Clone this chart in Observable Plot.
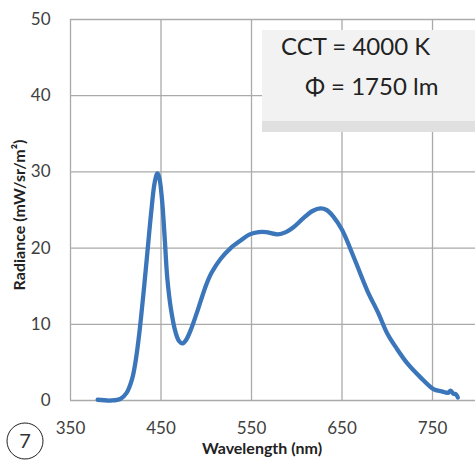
<!DOCTYPE html>
<html>
<head>
<meta charset="utf-8">
<script src="https://cdn.jsdelivr.net/npm/d3@7"></script>
<script src="https://cdn.jsdelivr.net/npm/@observablehq/plot@0.6"></script>
<style>
  html, body { margin: 0; padding: 0; background: #fff; }
  #chart svg { display: block; }
</style>
</head>
<body>
<div id="chart"></div>
<script>
// ---- data ----
const wavelength = [380, 395, 405, 412, 418, 422, 426, 431, 435, 439, 443, 446, 448, 451, 454, 457, 461, 466, 470, 474, 478, 483, 489, 494, 500, 506, 516, 527, 538, 548, 558, 566, 579, 588, 596, 608, 618, 626, 633, 640, 650, 663, 678, 690, 700, 710, 722, 737, 751, 760, 767, 770, 773, 776, 778];
const radiance   = [0.1, 0.0, 0.2, 1.0, 2.8, 5.2, 8.8, 14.5, 19.5, 24.5, 28.6, 29.8, 29.3, 26.5, 21.5, 16, 12, 9.0, 7.8, 7.5, 8.0, 9.3, 11.3, 13.1, 15.2, 16.8, 18.6, 20, 21, 21.8, 22.1, 22.1, 21.8, 22.1, 22.7, 24, 24.9, 25.2, 25.0, 24.2, 22.4, 18.8, 14.4, 11.5, 8.8, 6.9, 4.9, 3.0, 1.5, 1.2, 1.0, 1.3, 0.9, 0.8, 0.4];
const xTicks = [350, 450, 550, 650, 750];
const yTicks = [0, 10, 20, 30, 40, 50];
const xTitle = "Wavelength (nm)";
const yTitle = "Radiance (mW/sr/m²)";
const boxLines = ["CCT = 4000 K", "Φ = 1750 lm"];
const panelNumber = "7";

const rows = wavelength.map((w, i) => ({w, r: radiance[i]}));

const W = 475, H = 461;
const font = "Lato, 'Open Sans', sans-serif";
const gridColor = "#aaaaaa";

const chart = Plot.plot({
  width: W,
  height: H,
  marginLeft: 70,
  marginRight: 0,
  marginTop: 19,
  marginBottom: 61,
  style: {fontFamily: font, background: "#fff", color: "#404040"},
  x: {domain: [350, 797.5]},
  y: {domain: [0, 50]},
  marks: [
    Plot.ruleX(xTicks, {x: d => d, stroke: gridColor, strokeWidth: 1.3}),
    Plot.ruleY(yTicks, {y: d => d, stroke: gridColor, strokeWidth: 1.3}),
    Plot.axisX({ticks: xTicks, tickSize: 0, tickPadding: 21, fontSize: 17, label: null, tickFormat: d => String(d)}),
    Plot.axisY({ticks: yTicks, tickSize: 0, tickPadding: 20, fontSize: 17, label: null}),
    Plot.line(rows, {x: "w", y: "r", stroke: "#3b76bb", strokeWidth: 4.3, curve: "catmull-rom", strokeLinecap: "round", strokeLinejoin: "round"})
  ]
});

document.getElementById("chart").appendChild(chart);

const svg = d3.select(chart);

// annotation box
const g = svg.append("g");
g.append("rect").attr("x", 262).attr("y", 121).attr("width", 213).attr("height", 11).attr("fill", "#e0e0e0");
g.append("rect").attr("x", 262).attr("y", 30).attr("width", 213).attr("height", 91).attr("fill", "#f2f2f2");
g.append("text").attr("x", 281).attr("y", 55).attr("text-anchor", "start").attr("font-family", font).attr("font-size", 24).attr("fill", "#222").text(boxLines[0]);
g.append("text").attr("x", 305).attr("y", 95).attr("text-anchor", "start").attr("font-family", font).attr("font-size", 24).attr("fill", "#222").text(boxLines[1]);

// axis titles
svg.append("text").attr("x", 262).attr("y", 454).attr("text-anchor", "middle")
  .attr("font-family", font).attr("font-weight", "bold").attr("font-size", 16).attr("fill", "#222").text(xTitle);
svg.append("text").attr("transform", "translate(25,215) rotate(-90)").attr("text-anchor", "middle")
  .attr("font-family", font).attr("font-weight", "bold").attr("font-size", 16).attr("fill", "#222").text(yTitle);

// panel number
svg.append("circle").attr("cx", 25).attr("cy", 441).attr("r", 18).attr("fill", "none").attr("stroke", "#222").attr("stroke-width", 1);
svg.append("text").attr("x", 25).attr("y", 448).attr("text-anchor", "middle")
  .attr("font-family", font).attr("font-size", 20).attr("fill", "#333").text(panelNumber);
</script>
</body>
</html>
